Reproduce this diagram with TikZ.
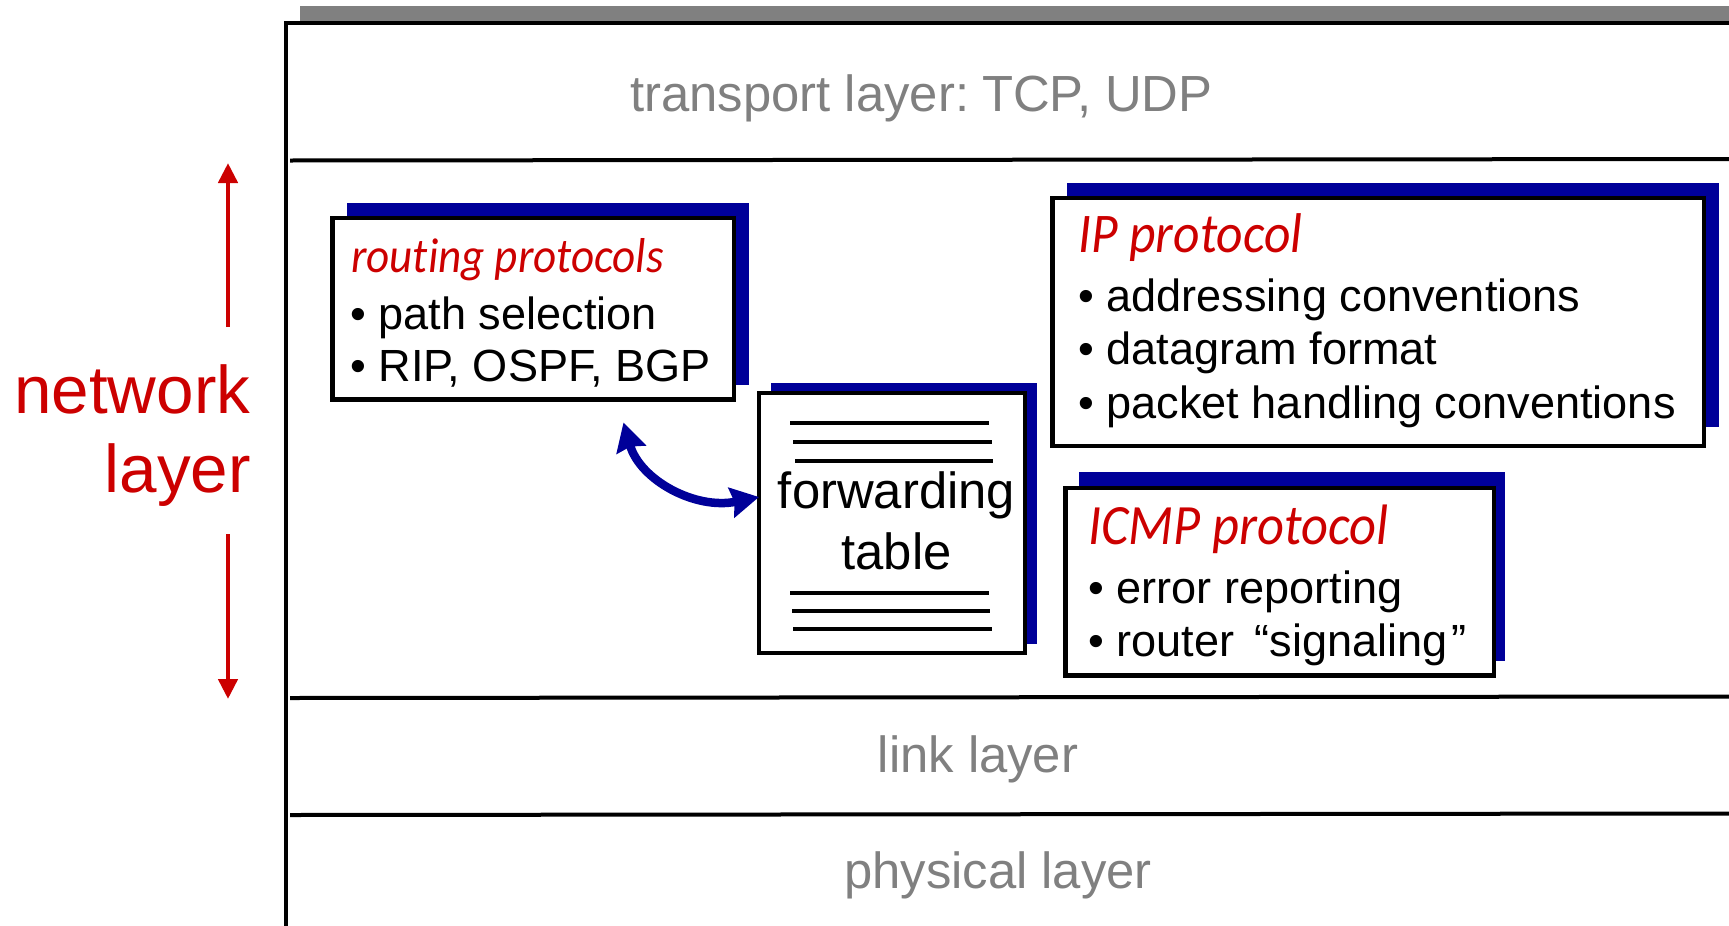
\documentclass[tikz,border=0pt]{standalone}
\usepackage{fontspec}
\setmainfont{Liberation Sans}
\newfontfamily\titlefont[FakeStretch=0.92,Ligatures=NoCommon]{Carlito}
\usetikzlibrary{arrows.meta}
\definecolor{navy}{HTML}{000099}
\definecolor{redtxt}{HTML}{CC0000}
\definecolor{graytxt}{HTML}{808080}
\tikzset{
  x=1bp,y=-1bp,
  shadowbox/.style={fill=navy,draw=none},
  panel/.style={draw=black,line width=4.2bp,fill=white},
  rulebar/.style={draw=black,line width=4bp},
  tline/.style={draw=black,line width=4bp},
  layertext/.style={inner sep=0pt,anchor=base,text=graytxt,font=\fontsize{50.8bp}{50.8bp}\selectfont},
  bodytext/.style={inner sep=0pt,anchor=base west,text=black,font=\fontsize{45.1bp}{45.1bp}\selectfont},
  titletext/.style={inner sep=0pt,anchor=base west,text=redtxt,font=\titlefont\itshape\fontsize{#1}{#1}\selectfont},
  nettext/.style={inner sep=0pt,anchor=base east,text=redtxt,font=\fontsize{67.4bp}{67.4bp}\selectfont},
  fwdtext/.style={inner sep=0pt,anchor=base,text=black,font=\fontsize{50.8bp}{50.8bp}\selectfont},
  redarrow/.style={draw=redtxt,line width=4.6bp,-{Stealth[length=20bp,width=19bp,inset=0pt]}},
  bluearrow/.style={draw=navy,line width=8.5bp,{Stealth[length=28bp,width=30bp,inset=3bp]}-{Stealth[length=28bp,width=30bp,inset=3bp]}}
}
\begin{document}
\begin{tikzpicture}
\useasboundingbox (0,0) rectangle (1729,925);
% grey bar and frame
\fill[graytxt] (300,6) rectangle (1729,21);
\coordinate (ftl) at (285.5,23); \coordinate (ftr) at (1729,23); \coordinate (fbl) at (285.5,925);
\draw[rulebar,line cap=rect] (ftr) -- (ftl) -- (fbl);
% dividers
\coordinate (d1a) at (290,160.5); \coordinate (d1b) at (1729,159);
\coordinate (d2a) at (290,698); \coordinate (d2b) at (1729,696.5);
\coordinate (d3a) at (290,815); \coordinate (d3b) at (1729,813.5);
\draw[rulebar] (d1a) -- (d1b);
\draw[rulebar] (d2a) -- (d2b);
\draw[rulebar] (d3a) -- (d3b);
% layer labels
\node[layertext] (transport) at (921.5,111) {transport layer:\kern-6bp{} TCP, UDP};
\node[layertext] (link) at (978,772) {link layer};
\node[layertext] (physical) at (998,888) {physical layer};
% network layer
\node[nettext] (net1) at (250.5,413) {network};
\node[nettext] (net2) at (251,492) {layer};
\coordinate (ra1s) at (228,327); \coordinate (ra1e) at (228,163);
\coordinate (ra2s) at (228,534); \coordinate (ra2e) at (228,699);
\draw[redarrow] (ra1s) -- (ra1e);
\draw[redarrow] (ra2s) -- (ra2e);
% routing box
\fill[shadowbox] (347,203) rectangle (749,385);
\path[panel] (332.5,218) rectangle (734,399.5);
\node[titletext=49bp] (rt) at (351,272) {routing protocols};
\node[bodytext] (r1) at (350,329) {• path selection};
\node[bodytext] (r2) at (350,381) {• RIP, OSPF, BGP};
% forwarding box
\fill[shadowbox] (771,383) rectangle (1037,644);
\node[panel,minimum width=266bp,minimum height=260bp,anchor=north west,inner sep=0pt,outer sep=0pt] (fwd) at (759,393) {};
\foreach \n/\y/\a/\b in {a/423/790/989,b/442/793/992,c/461/795/993,d/593/790/989,e/611/792/990,f/629/793/992}{
  \coordinate (l\n s) at (\a,\y); \coordinate (l\n e) at (\b,\y);
  \draw[tline] (l\n s) -- (l\n e);
}
\node[fwdtext] (ft1) at (896.5,508) {forwarding};
\node[fwdtext] (ft2) at (896.5,569) {table};
% IP box
\fill[shadowbox] (1067,183) rectangle (1719,427);
\path[panel] (1052.5,198) rectangle (1704,446);
\node[titletext=56bp] (ipt) at (1078,252) {IP protocol};
\node[bodytext] (i1) at (1078,311) {• addressing conventions};
\node[bodytext] (i2) at (1078,364) {• datagram format};
\node[bodytext] (i3) at (1078,418) {• packet handling conventions};
% ICMP box
\fill[shadowbox] (1079,472) rectangle (1505,661);
\path[panel] (1065.5,488) rectangle (1494,675.5);
\node[titletext=57bp] (ict) at (1088,544) {ICMP protocol};
\node[bodytext] (c1) at (1088,603) {• error reporting};
\node[bodytext] (c2) at (1088,656) {• router \kern8bp“signaling\kern4bp”};
% curved arrow
\coordinate (bs) at (623.5,422.5);
\draw[bluearrow] (bs) .. controls (640,480) and (695,510) .. (fwd.west |- 0,497);
\end{tikzpicture}
\end{document}
